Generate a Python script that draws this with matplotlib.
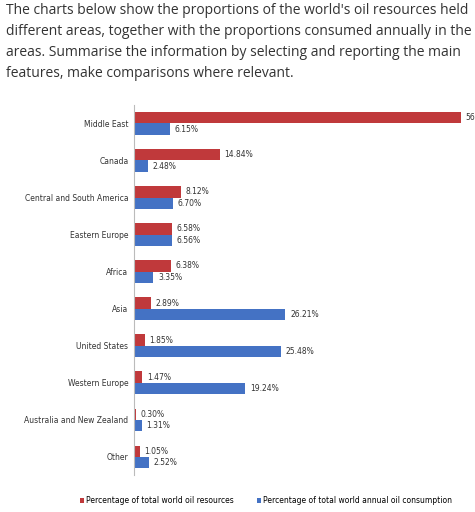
import matplotlib
matplotlib.use("Agg")
import matplotlib.pyplot as plt
import numpy as np

regions = ["Middle East", "Canada", "Central and South America", "Eastern Europe", "Africa",
           "Asia", "United States", "Western Europe", "Australia and New Zealand", "Other"]
resources = [56.52, 14.84, 8.12, 6.58, 6.38, 2.89, 1.85, 1.47, 0.30, 1.05]
consumption = [6.15, 2.48, 6.70, 6.56, 3.35, 26.21, 25.48, 19.24, 1.31, 2.52]

fig = plt.figure(figsize=(4.75, 5.12), dpi=100)
fig.patch.set_facecolor("white")
title = ("The charts below show the proportions of the world's oil resources held\n"
         "different areas, together with the proportions consumed annually in the\n"
         "areas. Summarise the information by selecting and reporting the main\n"
         "features, make comparisons where relevant.")
fig.text(0.012, 0.995, title, ha="left", va="top", fontsize=10, color="#333333",
         linespacing=1.55, family="Open Sans")

ax = fig.add_axes([0.282, 0.072, 0.718, 0.723])
y = np.arange(len(regions))
h = 0.3
red, blue = "#c0393b", "#4472c4"
ax.barh(y - h/2, resources, height=h, color=red, label="Percentage of total world oil resources")
ax.barh(y + h/2, consumption, height=h, color=blue, label="Percentage of total world annual oil consumption")
for i in range(len(regions)):
    ax.text(resources[i] + 0.8, y[i] - h/2, f"{resources[i]:.2f}%", va="center", fontsize=5.5, color="#333")
    ax.text(consumption[i] + 0.8, y[i] + h/2, f"{consumption[i]:.2f}%", va="center", fontsize=5.5, color="#333")
ax.set_yticks(y)
ax.set_yticklabels(regions, fontsize=5.5, color="#333")
ax.set_ylim(len(regions) - 0.5, -0.5)
ax.set_xlim(0, 59)
ax.set_xticks([])
for s in ["top", "right", "bottom"]:
    ax.spines[s].set_visible(False)
ax.spines["left"].set_color("#bbbbbb")
ax.tick_params(axis="y", length=0, pad=4)
fig.legend(loc="lower center", bbox_to_anchor=(0.56, 0.0), ncol=2, fontsize=5.5, frameon=False,
           handlelength=0.5, handleheight=0.5, columnspacing=3, handletextpad=0.3)
fig.savefig("out.png", dpi=100)
